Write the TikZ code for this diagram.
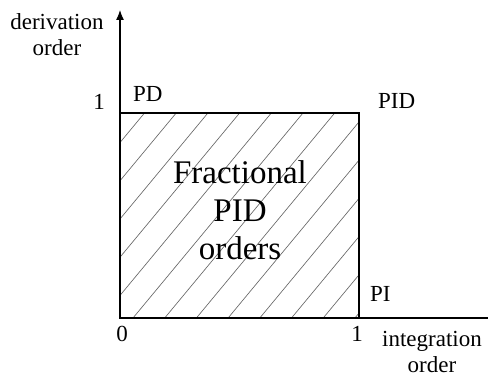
\documentclass[tikz,border=0pt]{standalone}
\usepackage{fontspec}
\setmainfont{Liberation Serif}
\usetikzlibrary{arrows.meta, positioning, calc}

\tikzset{
  axis/.style={line width=1.2pt, black},
  hatch/.style={line width=0.65pt, black!60},
  lbl/.style={font=\fontsize{23}{26}\selectfont, inner sep=0pt},
  biglbl/.style={font=\fontsize{33}{38}\selectfont, align=center, inner sep=0pt}
}

\begin{document}
\begin{tikzpicture}[x=1pt, y=1pt, >={Latex[length=10pt,width=8pt]}]
  \useasboundingbox (-120,-61) rectangle (372,318);
  % Axes
  \coordinate (O) at (0,0);
  \coordinate (ytip) at (0,308);
  \coordinate (xend) at (368,0);
  \draw[axis, ->] (O) -- (ytip);
  \draw[axis] (O) -- (xend);
  % Hatched region
  \begin{scope}
    \clip (0,0) rectangle (239,205);
    \foreach \k in {-6,...,7}
      \draw[hatch] ({13+31.7*\k},0) -- ({183+31.7*\k},205);
  \end{scope}
  \draw[axis] (O) rectangle (239,205) coordinate (C);
  \node[biglbl] (frac) at (120,108) {Fractional\\PID\\orders};
  % Corner labels
  \node[lbl, anchor=base west] (pd) at (13,216) {PD};
  \node[lbl, anchor=base west] (pid) at (258,209) {PID};
  \node[lbl, anchor=base west] (pi) at (250,16) {PI};
  % Ticks
  \node[lbl, anchor=base east] (y1) at (-15,208) {1};
  \node[lbl, anchor=base] (x0) at (2,-24) {0};
  \node[lbl, anchor=base] (x1) at (237,-24) {1};
  % Axis titles
  \node[lbl, align=center] (ytitle) at (-63,283) {derivation\\order};
  \node[lbl, align=center] (xtitle) at (312,-34) {integration\\order};
\end{tikzpicture}
\end{document}
